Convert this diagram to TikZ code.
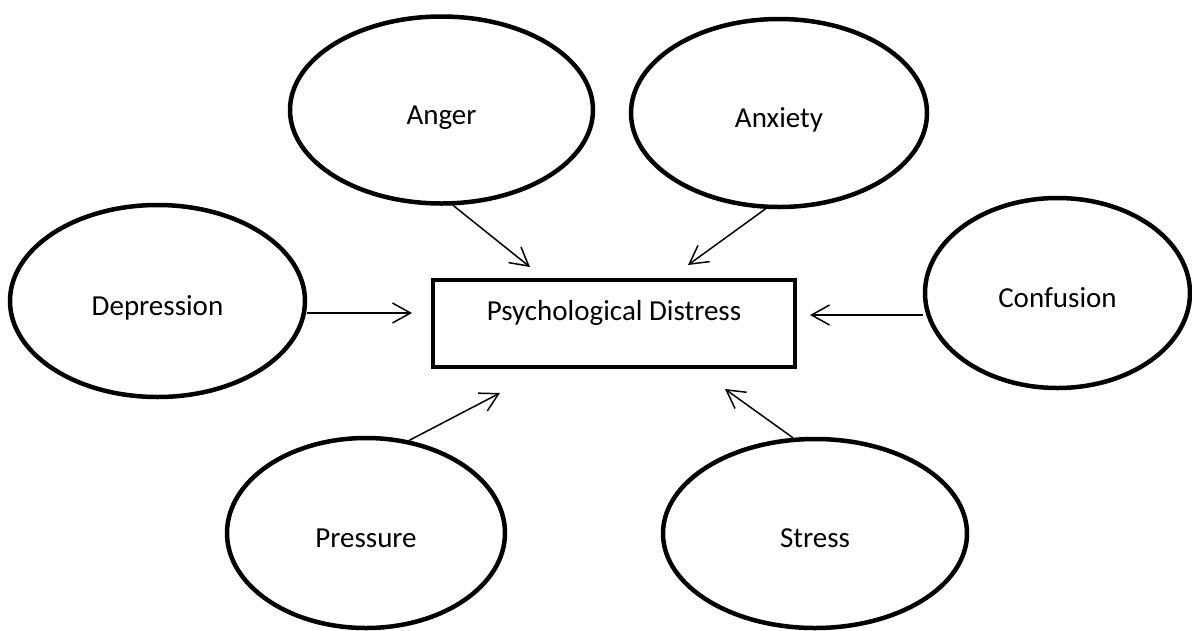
\documentclass[tikz,border=0pt]{standalone}
\usepackage{fontspec}
\setmainfont{Carlito}
\usetikzlibrary{shapes.geometric,arrows.meta}
\begin{document}
\begin{tikzpicture}[x=1pt,y=-1pt,
  emo/.style={ellipse, draw, line width=4.5pt, inner sep=0pt,
    font=\fontsize{29}{35}\selectfont, text height=30pt, text depth=2pt},
  outcome/.style={rectangle, draw, line width=4.5pt, minimum width=362pt,
    minimum height=87pt, inner sep=0pt,
    font=\fontsize{29}{35}\selectfont, text height=18pt, text depth=25pt},
  link/.style={line width=1.5pt, -{Straight Barb[length=18pt,width=20pt]}}]
\useasboundingbox (0,0) rectangle (1192,630);
\node[emo, minimum width=303pt, minimum height=187pt] (anger) at (441.5,110) {Anger};
\node[emo, minimum width=296pt, minimum height=188pt] (anxiety) at (779,113) {Anxiety};
\node[emo, minimum width=295pt, minimum height=192pt] (dep) at (157.5,301) {Depression};
\node[emo, minimum width=265pt, minimum height=190pt] (conf) at (1057.5,293) {Confusion};
\node[emo, minimum width=278pt, minimum height=190pt] (pres) at (366,533) {Pressure};
\node[emo, minimum width=304pt, minimum height=189pt] (stress) at (815,533.5) {Stress};
\node[outcome] (pd) at (614,323.5) {Psychological Distress};
\coordinate (tA) at (530,267);
\coordinate (tX) at (688,265);
\coordinate (tD) at (412,313);
\coordinate (tC) at (810,315);
\coordinate (tP) at (500,393);
\coordinate (tS) at (725,389);
\draw[link] (anger.-83) -- (tA);
\draw[link] (anxiety.-98.5) -- (tX);
\draw[link] (dep.east |- tD) -- (tD);
\draw[link] (conf.west |- tC) -- (tC);
\draw[link] (pres.65.5) -- (tP);
\draw[link] (stress.103) -- (tS);
\end{tikzpicture}
\end{document}
